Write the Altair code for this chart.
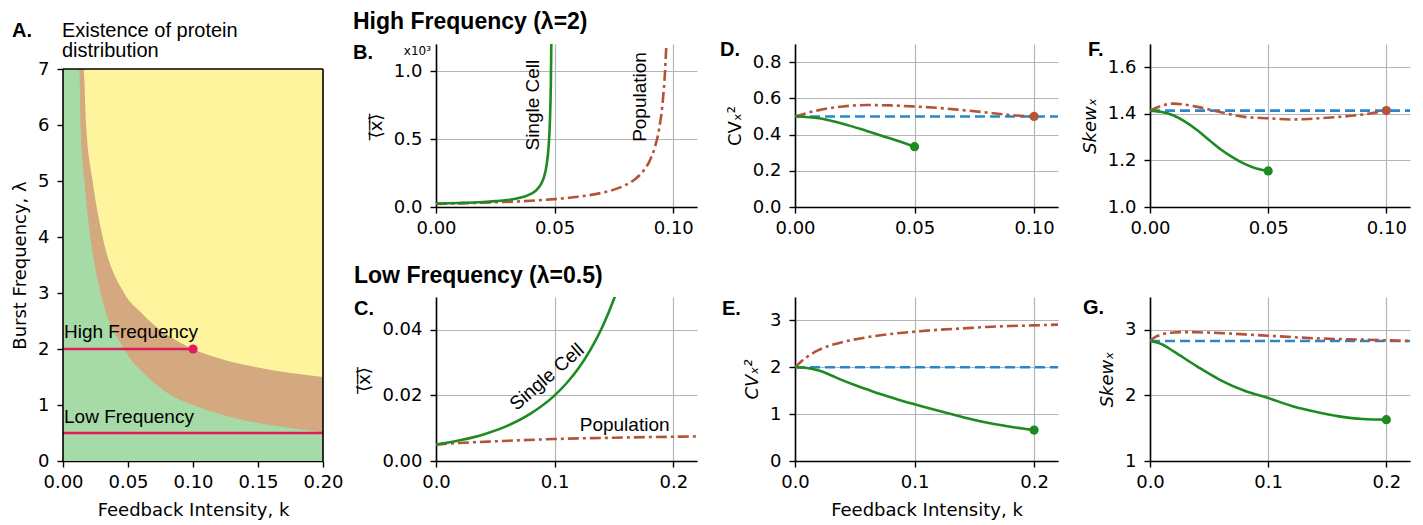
import altair as alt
import pandas as pd

# ---------------- data ----------------
# Panel A: existence regions (boundaries)
A_K_UPPER = [0.0, 0.0158, 0.0178, 0.0228, 0.0305, 0.047, 0.06, 0.07, 0.08, 0.1, 0.125, 0.15, 0.175, 0.2]
A_LAM_UPPER = [7.0, 7.0, 6.0, 5.0, 4.0, 3.0, 2.65, 2.43, 2.26, 2.0, 1.8, 1.67, 1.57, 1.5]
A_K_LOWER = [0.0, 0.0125, 0.0135, 0.0165, 0.021, 0.029, 0.047, 0.065, 0.08, 0.1, 0.125, 0.15, 0.175, 0.2]
A_LAM_LOWER = [7.0, 7.0, 6.0, 5.0, 4.0, 3.0, 2.0, 1.5, 1.22, 1.0, 0.81, 0.68, 0.59, 0.51]
A_HIGH_K = [0.0, 0.1]
A_HIGH_LAM = [2.0, 2.0]
A_LOW_K = [0.0, 0.2]
A_LOW_LAM = [0.5, 0.5]

# Panel B: mean (x10^3), high frequency
B_K_SC = [0, 0.01, 0.02, 0.025, 0.03, 0.034, 0.037, 0.04, 0.042, 0.044, 0.0455, 0.0465, 0.0475, 0.048, 0.0484, 0.0487]
B_SC = [0.026, 0.030, 0.037, 0.043, 0.051, 0.062, 0.075, 0.096, 0.120, 0.161, 0.22, 0.296, 0.454, 0.625, 0.899, 1.34]
B_K_POP = [0, 0.02, 0.04, 0.05, 0.06, 0.07, 0.075, 0.08, 0.084, 0.087, 0.09, 0.092, 0.094, 0.0955, 0.0965, 0.0973]
B_POP = [0.023, 0.032, 0.046, 0.058, 0.0755, 0.105, 0.128, 0.163, 0.207, 0.257, 0.338, 0.426, 0.571, 0.766, 0.988, 1.284]

# Panel C: mean, low frequency
C_K_SC = [0, 0.02, 0.04, 0.06, 0.08, 0.1, 0.11, 0.12, 0.13, 0.14, 0.15, 0.155]
C_SC = [0.005, 0.0063, 0.0081, 0.0107, 0.0145, 0.020, 0.0237, 0.0282, 0.0338, 0.0407, 0.0494, 0.0545]
C_K_POP = [0, 0.02, 0.05, 0.1, 0.15, 0.22]
C_POP = [0.005, 0.0055, 0.006, 0.0067, 0.0071, 0.0075]

# Panel D: CV^2, high frequency
D_K_SC = [0, 0.01, 0.02, 0.03, 0.04, 0.05]
D_SC = [0.5, 0.49, 0.46, 0.42, 0.378, 0.333]
D_K_POP = [0, 0.01, 0.02, 0.03, 0.04, 0.05, 0.06, 0.07, 0.08, 0.09, 0.1]
D_POP = [0.5, 0.535, 0.555, 0.563, 0.561, 0.555, 0.547, 0.535, 0.522, 0.508, 0.5]
D_K_REF = [0, 0.11]
D_REF = [0.5, 0.5]

# Panel E: CV^2, low frequency
E_K_SC = [0, 0.01, 0.02, 0.03, 0.04, 0.05, 0.06, 0.07, 0.08, 0.09, 0.1, 0.12, 0.14, 0.16, 0.18, 0.2]
E_SC = [2.0, 1.985, 1.93, 1.83, 1.72, 1.62, 1.53, 1.44, 1.36, 1.28, 1.21, 1.07, 0.94, 0.82, 0.73, 0.66]
E_K_POP = [0, 0.005, 0.01, 0.02, 0.03, 0.04, 0.06, 0.08, 0.1, 0.12, 0.14, 0.16, 0.18, 0.2, 0.22]
E_POP = [2.0, 2.12, 2.22, 2.37, 2.47, 2.54, 2.64, 2.71, 2.76, 2.80, 2.83, 2.86, 2.88, 2.895, 2.91]
E_K_REF = [0, 0.22]
E_REF = [2.0, 2.0]

# Panel F: skewness, high frequency
F_K_SC = [0, 0.005, 0.01, 0.015, 0.02, 0.025, 0.03, 0.035, 0.04, 0.045, 0.05]
F_SC = [1.414, 1.408, 1.393, 1.366, 1.33, 1.288, 1.247, 1.213, 1.185, 1.165, 1.155]
F_K_POP = [0, 0.005, 0.01, 0.02, 0.03, 0.04, 0.05, 0.06, 0.07, 0.08, 0.09, 0.1]
F_POP = [1.414, 1.435, 1.444, 1.43, 1.407, 1.387, 1.381, 1.376, 1.38, 1.387, 1.397, 1.414]
F_K_REF = [0, 0.11]
F_REF = [1.414, 1.414]

# Panel G: skewness, low frequency
G_K_SC = [0, 0.01, 0.02, 0.04, 0.06, 0.08, 0.1, 0.12, 0.14, 0.16, 0.18, 0.2]
G_SC = [2.83, 2.78, 2.67, 2.44, 2.23, 2.07, 1.96, 1.84, 1.75, 1.68, 1.64, 1.63]
G_K_POP = [0, 0.005, 0.01, 0.015, 0.02, 0.03, 0.04, 0.06, 0.08, 0.1, 0.14, 0.18, 0.22]
G_POP = [2.83, 2.895, 2.93, 2.95, 2.96, 2.965, 2.962, 2.95, 2.93, 2.91, 2.87, 2.85, 2.83]
G_K_REF = [0, 0.22]
G_REF = [2.83, 2.83]

# ---------------- styles ----------------
FONT = "DejaVu Sans"
TFONT = "Liberation Sans"
GREEN_FILL = "#a6dba8"
BROWN_FILL = "#d4a97f"
YELLOW_FILL = "#fff49e"
CRIMSON = "#e31b5c"
GREEN = "#1f8a22"
BROWN = "#b3543a"
BLUE = "#2b86c9"
LW = 2.6
DASHDOT = [11, 4, 3, 4]
DASHED = [10, 5]


def df(k, v):
    return pd.DataFrame({"k": k, "v": v})


ONE = pd.DataFrame({"a": [0]})


def label(text, dx, dy, size=20, weight="bold", font=TFONT, align="left"):
    return alt.Chart(ONE).mark_text(
        text=text, font=font, fontSize=size, fontWeight=weight, align=align,
        baseline="alphabetic", color="black"
    ).encode(x=alt.value(dx), y=alt.value(dy))


def frame(left, right, top, bottom, w, h):
    # invisible box fixing each panel's layout extent
    return alt.Chart(ONE).mark_rect(opacity=0).encode(
        x=alt.value(-left), x2=alt.value(w + right),
        y=alt.value(-top), y2=alt.value(h + bottom))


def encs(xdom, xvals, xfmt, ydom, yvals, yfmt, ytitle, xtitle=None, tstyle="normal", grid=True):
    x = alt.X("k:Q", scale=alt.Scale(domain=xdom, nice=False, zero=False),
              axis=alt.Axis(values=xvals, format=xfmt, title=xtitle, grid=grid))
    y = alt.Y("v:Q", scale=alt.Scale(domain=ydom, nice=False, zero=False),
              axis=alt.Axis(values=yvals, format=yfmt, title=ytitle, grid=grid,
                            titleFontStyle=tstyle))
    return x, y


def line(data, x, y, color, dash=None):
    kw = dict(color=color, strokeWidth=LW, interpolate="monotone", clip=True)
    if dash is not None:
        kw["strokeDash"] = dash
    return alt.Chart(data).mark_line(**kw).encode(x=x, y=y)


def dot(k, v, x, y, color):
    return alt.Chart(df(k, v)).mark_circle(color=color, size=85, opacity=1).encode(x=x, y=y)


# layout extents (pixels around each plot area)
T1 = 36          # above top-row plots
BOT1 = 40        # below top-row plots
T2 = 50          # above bottom-row plots
BOT2 = 62        # below bottom-row plots

# ---------------- Panel A ----------------
AW, AH = 260, 417          # plot group; the 0..7 box occupies its lower 392 px
A_TOP = 7.0 * AH / 392.0
ax = alt.X("k:Q", scale=alt.Scale(domain=[0, 0.2], nice=False),
           axis=alt.Axis(values=[0, 0.05, 0.1, 0.15, 0.2], format=".2f",
                         title="Feedback Intensity, k", grid=False))
ay = alt.Y("v:Q", scale=alt.Scale(domain=[0, A_TOP], nice=False),
           axis=alt.Axis(values=[0, 1, 2, 3, 4, 5, 6, 7], format="d", domain=False,
                         title="Burst Frequency, λ", grid=False, titleY=25 + 196))
a_bg = alt.Chart(pd.DataFrame({"k": [0.0], "k2": [0.2], "v": [0.0], "v2": [7.0]})).mark_rect(
    color=YELLOW_FILL).encode(x=ax, x2="k2:Q", y=ay, y2="v2:Q")
a_brown = alt.Chart(df(A_K_UPPER, A_LAM_UPPER)).mark_area(
    color=BROWN_FILL, interpolate="monotone", clip=True, opacity=1).encode(
    x=ax, y=ay, y2=alt.datum(0))
a_green = alt.Chart(df(A_K_LOWER, A_LAM_LOWER)).mark_area(
    color=GREEN_FILL, interpolate="monotone", clip=True, opacity=1).encode(
    x=ax, y=ay, y2=alt.datum(0))
a_hi = alt.Chart(df(A_HIGH_K, A_HIGH_LAM)).mark_line(color=CRIMSON, strokeWidth=2.5).encode(x=ax, y=ay)
a_lo = alt.Chart(df(A_LOW_K, A_LOW_LAM)).mark_line(color=CRIMSON, strokeWidth=2.5, clip=True).encode(x=ax, y=ay)
a_dot = alt.Chart(df([0.1], [2.0])).mark_circle(color=CRIMSON, size=85, opacity=1).encode(x=ax, y=ay)
# box frame (left, right, top spines) of the 0..0.2 x 0..7 region
a_spines = alt.Chart(pd.DataFrame({
    "k": [0.0, 0.2, 0.0], "k2": [0.0, 0.2, 0.2], "v": [0.0, 0.0, 7.0], "v2": [7.0, 7.0, 7.0]
})).mark_rule(color="black", strokeWidth=1.6).encode(x=ax, x2="k2:Q", y=ay, y2="v2:Q")
a_txt = alt.Chart(pd.DataFrame({"k": [0.0, 0.0], "v": [2.2, 0.67],
                                "t": ["High Frequency", "Low Frequency"]})).mark_text(
    font=TFONT, fontSize=19, align="left", baseline="alphabetic", dx=1, color="black").encode(
    x=ax, y=ay, text="t:N")
a_lab = label("A.", -51, -7)
a_title = alt.Chart(ONE).mark_text(
    text=["Existence of protein", "distribution"], font=TFONT, fontSize=20, lineHeight=20,
    align="left", baseline="alphabetic", color="black").encode(x=alt.value(-1), y=alt.value(-7))
panelA = alt.layer(a_bg, a_brown, a_green, a_hi, a_lo, a_dot, a_spines, a_txt, a_lab, a_title,
                   frame(55, 27, T1, 60, AW, AH)).properties(width=AW, height=AH)

# ---------------- Panel B ----------------
MEAN_T = "⟨̅x̅⟩̅"
BW = 261
bx, by = encs([0, 0.11], [0, 0.05, 0.1], ".2f", [0, 1.2], [0, 0.5, 1.0], ".1f", MEAN_T)
b_txt = alt.Chart(pd.DataFrame({"k": [0.0408, 0.0861], "v": [0.75, 0.81],
                                "t": ["Single Cell", "Population"]})).mark_text(
    font=TFONT, fontSize=19, angle=270, align="center", baseline="middle", color="black").encode(
    x=bx, y=by, text="t:N")
panelB = alt.layer(
    line(df(B_K_POP, B_POP), bx, by, BROWN, DASHDOT),
    line(df(B_K_SC, B_SC), bx, by, GREEN),
    b_txt,
    label("B.", -83, 15),
    label("High Frequency (λ=2)", -83, -15, size=23),
    label("x10³", -5, 11, size=12, weight="normal", font=FONT, align="right"),
    frame(86, 20, T1, BOT1, BW, 163),
).properties(width=BW, height=163)

# ---------------- Panel C ----------------
cx, cy = encs([0, 0.22], [0, 0.1, 0.2], ".1f", [0, 0.05], [0, 0.02, 0.04], ".2f", MEAN_T)
c_txt1 = alt.Chart(pd.DataFrame({"k": [0.0935], "v": [0.0256], "t": ["Single Cell"]})).mark_text(
    font=TFONT, fontSize=19, angle=319, align="center", baseline="middle", color="black").encode(
    x=cx, y=cy, text="t:N")
c_txt2 = alt.Chart(pd.DataFrame({"k": [0.159], "v": [0.0109], "t": ["Population"]})).mark_text(
    font=TFONT, fontSize=19, align="center", baseline="middle", color="black").encode(
    x=cx, y=cy, text="t:N")
panelC = alt.layer(
    line(df(C_K_POP, C_POP), cx, cy, BROWN, DASHDOT),
    line(df(C_K_SC, C_SC), cx, cy, GREEN),
    c_txt1, c_txt2,
    label("C.", -82, 18),
    label("Low Frequency (λ=0.5)", -82, -14, size=23),
    frame(86, 20, T2, BOT2, BW, 164),
).properties(width=BW, height=164)

# ---------------- Panel D ----------------
DW = 263
dx_, dy_ = encs([0, 0.11], [0, 0.05, 0.1], ".2f", [0, 0.9], [0, 0.2, 0.4, 0.6, 0.8], ".1f", "CVₓ²")
panelD = alt.layer(
    line(df(D_K_REF, D_REF), dx_, dy_, BLUE, DASHED),
    line(df(D_K_POP, D_POP), dx_, dy_, BROWN, DASHDOT),
    line(df(D_K_SC, D_SC), dx_, dy_, GREEN),
    dot([0.05], [0.333], dx_, dy_, GREEN),
    dot([0.1], [0.5], dx_, dy_, BROWN),
    label("D.", -75, 12),
    frame(78, 18, T1, BOT1, DW, 163),
).properties(width=DW, height=163)

# ---------------- Panel E ----------------
ex, ey = encs([0, 0.22], [0, 0.1, 0.2], ".1f", [0, 3.5], [0, 1, 2, 3], "d", "CVₓ²",
              xtitle="Feedback Intensity, k", tstyle="italic")
panelE = alt.layer(
    line(df(E_K_REF, E_REF), ex, ey, BLUE, DASHED),
    line(df(E_K_POP, E_POP), ex, ey, BROWN, DASHDOT),
    line(df(E_K_SC, E_SC), ex, ey, GREEN),
    dot([0.2], [0.66], ex, ey, GREEN),
    label("E.", -73, 18),
    frame(78, 18, T2, BOT2, DW, 164),
).properties(width=DW, height=164)

# ---------------- Panel F ----------------
FW = 260
fx, fy = encs([0, 0.11], [0, 0.05, 0.1], ".2f", [1.0, 1.7], [1.0, 1.2, 1.4, 1.6], ".1f", "Skewₓ",
              tstyle="italic")
panelF = alt.layer(
    line(df(F_K_REF, F_REF), fx, fy, BLUE, DASHED),
    line(df(F_K_POP, F_POP), fx, fy, BROWN, DASHDOT),
    line(df(F_K_SC, F_SC), fx, fy, GREEN),
    dot([0.05], [1.155], fx, fy, GREEN),
    dot([0.1], [1.414], fx, fy, BROWN),
    label("F.", -62, 12),
    frame(74, 5, T1, BOT1, FW, 163),
).properties(width=FW, height=163)

# ---------------- Panel G ----------------
gx, gy = encs([0, 0.22], [0, 0.1, 0.2], ".1f", [1, 3.5], [1, 2, 3], "d", "Skewₓ", tstyle="italic")
panelG = alt.layer(
    line(df(G_K_REF, G_REF), gx, gy, BLUE, DASHED),
    line(df(G_K_POP, G_POP), gx, gy, BROWN, DASHDOT),
    line(df(G_K_SC, G_SC), gx, gy, GREEN),
    dot([0.2], [1.63], gx, gy, GREEN),
    label("G.", -67, 17),
    frame(74, 5, T2, BOT2, FW, 164),
).properties(width=FW, height=164)

colBC = alt.vconcat(panelB, panelC, spacing=0)
colDE = alt.vconcat(panelD, panelE, spacing=0)
colFG = alt.vconcat(panelF, panelG, spacing=0)

chart = alt.hconcat(panelA, colBC, colDE, colFG, spacing=0).properties(
    padding={"left": 0, "top": 0, "right": 0, "bottom": 0}
).configure_view(stroke=None).configure_axis(
    labelFont=FONT, labelFontSize=18, labelColor="black",
    titleFont=FONT, titleFontSize=18, titleColor="black", titleFontWeight="normal",
    domainColor="black", domainWidth=1.6, tickColor="black", tickWidth=1.4, tickSize=6,
    gridColor="#b4b4b4", gridWidth=1.2, labelFlush=False, labelOverlap=False,
).configure_axisX(labelPadding=6, titlePadding=10).configure_axisY(labelPadding=8, titlePadding=8)

chart.save("out.html", embed_options={"renderer": "svg", "actions": False})
